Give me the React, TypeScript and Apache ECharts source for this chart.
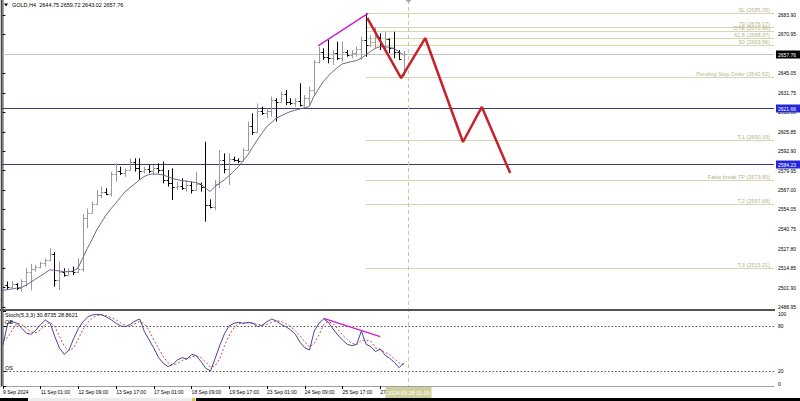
import React, { useEffect, useRef } from 'react';
import * as echarts from 'echarts';

const headerText = 'GOLD,H4  2644.75 2659.72 2643.02 2657.76';
const stochText = 'Stoch(5,3,3) 30.8735 28.8621';
const cursorTime = '2024.09.28 01:00';
const timeLabels = ['9 Sep 2024', '11 Sep 01:00', '12 Sep 09:00', '13 Sep 17:00', '17 Sep 01:00', '18 Sep 09:00', '19 Sep 17:00', '23 Sep 01:00', '24 Sep 09:00', '25 Sep 17:00', '27 Sep 01:00'];
const labelEvery = 8;
const totalSlots = 164;

const opens = [2494.5, 2503.5, 2502.0, 2504.5, 2501.5, 2506.0, 2512.0, 2514.5, 2515.5, 2518.0,
  2520.0, 2524.0, 2507.0, 2512.0, 2510.5, 2513.0, 2512.0, 2514.0, 2548.5, 2552.0,
  2557.5, 2564.0, 2566.0, 2564.5, 2577.5, 2580.0, 2578.5, 2580.5, 2586.0, 2582.0,
  2580.0, 2581.0, 2579.5, 2582.0, 2580.5, 2574.0, 2572.0, 2569.0, 2570.0, 2568.5,
  2570.5, 2567.0, 2571.0, 2569.0, 2557.0, 2556.0, 2571.0, 2587.0, 2581.0, 2588.0,
  2587.0, 2586.5, 2593.5, 2610.0, 2606.0, 2620.0, 2618.5, 2620.0, 2627.0, 2626.0,
  2631.0, 2626.0, 2625.0, 2626.5, 2624.0, 2628.5, 2634.0, 2652.5, 2659.0, 2656.0,
  2655.0, 2658.5, 2655.5, 2659.5, 2657.0, 2658.5, 2661.0, 2667.5, 2664.0, 2666.0,
  2669.0, 2663.0, 2668.0, 2662.0, 2659.0, 2644.75];
const highs = [2506.5, 2505.9, 2506.3, 2504.8, 2507.4, 2514.8, 2517.7, 2517.0, 2519.2, 2521.4,
  2528.1, 2525.5, 2519.2, 2514.8, 2514.8, 2515.9, 2521.4, 2551.0, 2554.8, 2559.3,
  2567.1, 2569.3, 2568.2, 2579.3, 2584.9, 2582.6, 2581.5, 2588.2, 2588.2, 2588.2,
  2582.6, 2583.7, 2583.7, 2584.9, 2586.0, 2580.4, 2581.5, 2572.6, 2574.8, 2573.7,
  2572.6, 2579.3, 2572.0, 2599.3, 2560.8, 2573.7, 2593.8, 2591.5, 2591.5, 2589.3,
  2588.2, 2594.9, 2612.7, 2618.2, 2624.9, 2622.7, 2621.6, 2629.4, 2628.3, 2632.7,
  2633.8, 2628.3, 2628.3, 2638.3, 2630.5, 2636.0, 2653.8, 2662.7, 2661.6, 2667.2,
  2660.5, 2666.1, 2666.1, 2660.5, 2660.5, 2662.7, 2669.4, 2685.0, 2670.5, 2676.0,
  2671.6, 2672.8, 2668.3, 2672.7, 2660.5, 2659.72];
const lows = [2492.5, 2500.3, 2501.4, 2500.3, 2499.2, 2502.5, 2499.9, 2512.5, 2514.8, 2515.9,
  2519.5, 2502.5, 2500.3, 2509.2, 2510.0, 2510.3, 2511.5, 2512.5, 2541.5, 2551.5,
  2557.0, 2561.5, 2563.7, 2562.6, 2572.6, 2577.1, 2575.9, 2580.0, 2579.3, 2573.7,
  2578.2, 2578.2, 2577.1, 2578.2, 2571.5, 2569.3, 2560.4, 2567.1, 2567.1, 2565.9,
  2564.8, 2566.5, 2566.0, 2545.9, 2554.8, 2553.7, 2568.2, 2578.2, 2570.4, 2586.0,
  2584.9, 2586.0, 2593.0, 2603.8, 2604.9, 2617.1, 2614.9, 2616.0, 2612.7, 2625.5,
  2623.8, 2623.8, 2622.7, 2622.7, 2622.7, 2623.8, 2630.0, 2651.6, 2653.8, 2651.6,
  2650.5, 2653.8, 2652.7, 2656.1, 2655.0, 2656.1, 2653.8, 2656.0, 2662.7, 2661.6,
  2660.5, 2660.5, 2658.3, 2655.0, 2653.8, 2643.02];
const closes = [2503.5, 2502.0, 2504.5, 2501.5, 2506.0, 2512.0, 2514.5, 2515.5, 2518.0, 2520.0,
  2524.0, 2507.0, 2512.0, 2510.5, 2513.0, 2512.0, 2514.0, 2548.5, 2552.0, 2557.5,
  2564.0, 2566.0, 2564.5, 2577.5, 2580.0, 2578.5, 2580.5, 2586.0, 2582.0, 2580.0,
  2581.0, 2579.5, 2582.0, 2580.5, 2574.0, 2572.0, 2569.0, 2570.0, 2568.5, 2570.5,
  2567.0, 2571.0, 2569.0, 2557.0, 2556.0, 2571.0, 2587.0, 2581.0, 2588.0, 2587.0,
  2586.5, 2593.5, 2610.0, 2606.0, 2620.0, 2618.5, 2620.0, 2627.0, 2626.0, 2631.0,
  2626.0, 2625.0, 2626.5, 2624.0, 2628.5, 2634.0, 2652.5, 2659.0, 2656.0, 2655.0,
  2658.5, 2655.5, 2659.5, 2657.0, 2658.5, 2661.0, 2667.5, 2664.0, 2666.0, 2669.0,
  2663.0, 2668.0, 2662.0, 2659.0, 2654.5, 2657.76];

const maValues = [2500.0, 2500.5, 2501.0, 2501.5, 2502.0, 2503.5, 2505.5, 2507.5, 2509.5, 2511.5,
  2513.7, 2513.5, 2513.0, 2512.5, 2512.5, 2513.0, 2514.8, 2521.4, 2528.0, 2534.0,
  2540.4, 2545.5, 2550.4, 2554.5, 2558.2, 2562.0, 2565.9, 2568.5, 2571.0, 2573.7,
  2576.0, 2577.3, 2577.8, 2577.6, 2577.1, 2576.0, 2574.8, 2574.0, 2573.3, 2573.0,
  2572.5, 2572.0, 2571.0, 2568.5, 2566.0, 2569.3, 2571.5, 2573.7, 2576.5, 2579.5,
  2582.6, 2586.5, 2590.4, 2595.5, 2600.4, 2605.0, 2609.3, 2612.0, 2614.9, 2616.5,
  2618.0, 2619.4, 2620.3, 2621.1, 2622.0, 2622.7, 2629.4, 2634.5, 2639.4, 2643.0,
  2646.1, 2648.8, 2651.2, 2652.0, 2652.8, 2653.4, 2655.0, 2657.2, 2659.5, 2661.6,
  2662.7, 2662.7, 2662.3, 2661.6, 2659.4, 2657.2];

const stochMain = [55, 83.6, 85.8, 83.6, 76.9, 70.2, 68.9, 74.7, 82.2, 88,
  83.6, 65.8, 50.2, 42.2, 48, 63.6, 76.9, 85.8, 92.4, 94.7,
  95.6, 94.7, 92, 88, 83.6, 80, 79.1, 82.2, 86.7, 89.3,
  72.4, 61.3, 50.2, 37.8, 30.2, 25.8, 28.9, 34.7, 37.8, 36,
  42.2, 40.4, 32.5, 23.6, 20, 36.9, 54.7, 70.2, 80.4, 83.6,
  84.9, 83.6, 84.9, 83.6, 79.1, 81.3, 85.8, 89.3, 86.7, 82.2,
  79.1, 74.7, 68.9, 58.2, 51.1, 48, 73.3, 83.6, 89.3, 84.9,
  76, 68, 61.3, 55.6, 53.8, 55.6, 73.3, 55.6, 52.4, 45.8,
  49.3, 41.3, 36.9, 31.6, 24.4, 30.87];
const stochSignal = [60, 65, 75, 84, 82, 77, 72, 71, 75, 82,
  85, 79, 66, 53, 47, 51, 63, 76, 85, 91,
  94, 95, 94, 91, 88, 84, 81, 80, 83, 86,
  83, 74, 61, 50, 39, 31, 28, 30, 34, 36,
  39, 40, 38, 32, 25, 27, 37, 54, 68, 78,
  83, 84, 84, 84, 82, 81, 82, 85, 87, 86,
  83, 79, 74, 67, 59, 52, 57, 68, 82, 86,
  83, 76, 68, 62, 57, 55, 61, 61, 60, 51,
  49, 45, 42, 36, 31, 28.86];

const priceTicks = [2683.90, 2670.95, 2658.00, 2645.05, 2631.75, 2618.80, 2605.85, 2592.90, 2579.95, 2567.00, 2554.05, 2540.75, 2527.80, 2514.85, 2501.90, 2488.95];
const stochTicks = [0, 20, 80, 100];
const stochLevels = [80, 20];

const levelNames = ['SL', '79', 'OTE', '61.8', '50', 'Pending Stop Order', 'T.1', 'False break TP', 'T.2', 'T.3'];
const levelPrices = [2685.05, 2676.17, 2672.96, 2668.37, 2663.56, 2642.62, 2600.15, 2573.90, 2557.68, 2515.21];
const levelStartIndex = 77;
const fullLinePrices = [2621.66, 2584.23];
const bidPrice = 2657.76;

const zigzagX = [77.3, 84.5, 89.6, 97.6, 101.6, 107.6];
const zigzagY = [2681.9, 2641.8, 2668.5, 2599.1, 2622.5, 2578.4];
const divPriceX = [66.9, 77.5];
const divPriceY = [2663.2, 2685.0];
const divStochX = [68, 80];
const divStochY = [90.2, 65.8];
const cursorIndex = 86;

const FONT = 'Liberation Sans, Arial, sans-serif';
const LEVEL_LINE = '#d6d6b0';
const LEVEL_TEXT = '#b4b48c';

export default function App() {
  const ref = useRef<HTMLDivElement>(null);
  useEffect(() => {
    document.body.style.margin = '0';
    const chart = echarts.init(ref.current!, null, { renderer: 'svg' });
    const categories = Array.from({ length: totalSlots }, (_, i) =>
      i % labelEvery === 0 && i / labelEvery < timeLabels.length ? timeLabels[i / labelEvery] : '');
    const showLabel = (i: number) => i % labelEvery === 0 && i / labelEvery < timeLabels.length;
    const barData = opens.map((o, i) => [i, o, highs[i], lows[i], closes[i]]);

    const option: any = {
      animation: false,
      backgroundColor: '#ffffff',
      grid: [
        { left: 0, right: 26, top: 0, height: 309 },
        { left: 0, right: 26, top: 311, height: 75 },
      ],
      xAxis: [
        { type: 'value', gridIndex: 0, min: -0.5, max: totalSlots - 0.5, show: false },
        { type: 'value', gridIndex: 1, min: -0.5, max: totalSlots - 0.5, show: false },
        {
          type: 'category', gridIndex: 1, data: categories, boundaryGap: true, position: 'bottom',
          axisLine: { show: true, lineStyle: { color: '#a0a0a0', width: 1 } },
          axisTick: { show: true, interval: (i: number) => showLabel(i), alignWithLabel: true, length: 3, lineStyle: { color: '#000' } },
          axisLabel: { interval: (i: number) => showLabel(i), align: 'left', fontSize: 5, color: '#000', margin: 3, fontFamily: FONT },
          splitLine: { show: false },
        },
      ],
      yAxis: [
        {
          type: 'value', gridIndex: 0, position: 'right', min: 2487.6, max: 2693.9,
          splitLine: { show: false },
          axisLine: { show: true, lineStyle: { color: '#a0a0a0', width: 2 } },
          axisTick: { show: true, customValues: priceTicks, length: 3, lineStyle: { color: '#000' } },
          axisLabel: { customValues: priceTicks, formatter: (v: number) => v.toFixed(2), fontSize: 5, color: '#000', margin: 4, fontFamily: FONT },
        },
        {
          type: 'value', gridIndex: 1, position: 'right', min: 0, max: 100,
          splitLine: { show: false },
          axisLine: { show: true, lineStyle: { color: '#a0a0a0', width: 2 } },
          axisTick: { show: true, customValues: stochTicks, length: 3, lineStyle: { color: '#000' } },
          axisLabel: { customValues: stochTicks, fontSize: 5, color: '#000', margin: 4, fontFamily: FONT, verticalAlignMinLabel: 'bottom', verticalAlignMaxLabel: 'top' },
        },
      ],
      series: [
        {
          type: 'custom', name: 'levels', xAxisIndex: 0, yAxisIndex: 0, z: 1,
          data: levelPrices.map((p) => [levelStartIndex, p]),
          renderItem: (params: any, api: any) => {
            const k = params.dataIndex;
            const pt = api.coord([api.value(0), api.value(1)]);
            const right = params.coordSys.x + params.coordSys.width;
            const y = Math.round(pt[1]) + 0.5;
            return {
              type: 'group', children: [
                { type: 'line', shape: { x1: pt[0], y1: y, x2: right, y2: y }, style: { stroke: LEVEL_LINE, lineWidth: 1 } },
                { type: 'text', style: { text: `${levelNames[k]} (${levelPrices[k].toFixed(2)})`, x: right - 4, y: y - 1, fill: LEVEL_TEXT, fontSize: 5.5, fontFamily: FONT, align: 'right', verticalAlign: 'bottom' } },
              ],
            };
          },
        },
        {
          type: 'custom', name: 'fullLines', xAxisIndex: 0, yAxisIndex: 0, z: 1,
          data: [[0, bidPrice], ...fullLinePrices.map((p) => [0, p])],
          renderItem: (params: any, api: any) => {
            const k = params.dataIndex;
            const price = api.value(1);
            const pt = api.coord([0, price]);
            const cs = params.coordSys;
            const y = Math.round(pt[1]) + 0.5;
            const right = cs.x + cs.width;
            const isBid = k === 0;
            return {
              type: 'group', children: [
                { type: 'line', shape: { x1: cs.x + 2, y1: y, x2: right, y2: y }, style: { stroke: isBid ? '#c4c4c4' : '#3c3c6c', lineWidth: 1 } },
                { type: 'rect', shape: { x: right + 2, y: y - 4, width: 24, height: 8 }, style: { fill: isBid ? '#000000' : '#2424d8' } },
                { type: 'text', style: { text: price.toFixed(2), x: right + 4, y: y, fill: '#ffffff', fontSize: 5, fontFamily: FONT, align: 'left', verticalAlign: 'middle' } },
              ],
            };
          },
        },
        {
          type: 'custom', name: 'bars', xAxisIndex: 0, yAxisIndex: 0, z: 3,
          data: barData,
          encode: { x: 0, y: [1, 2, 3, 4] },
          renderItem: (params: any, api: any) => {
            const i = api.value(0);
            const o = api.value(1), c = api.value(4);
            const ph = api.coord([i, api.value(2)]);
            const pl = api.coord([i, api.value(3)]);
            const po = api.coord([i, o]);
            const pc = api.coord([i, c]);
            const x = Math.round(ph[0]) + 0.5;
            const col = c >= o ? '#9a9a9a' : '#000000';
            const st = { stroke: col, lineWidth: 1 };
            return {
              type: 'group', children: [
                { type: 'line', shape: { x1: x, y1: ph[1], x2: x, y2: pl[1] }, style: st },
                { type: 'line', shape: { x1: x - 2, y1: Math.round(po[1]) + 0.5, x2: x, y2: Math.round(po[1]) + 0.5 }, style: st },
                { type: 'line', shape: { x1: x, y1: Math.round(pc[1]) + 0.5, x2: x + 2, y2: Math.round(pc[1]) + 0.5 }, style: st },
              ],
            };
          },
        },
        {
          type: 'line', name: 'MA', xAxisIndex: 0, yAxisIndex: 0, z: 4,
          data: maValues.map((v, i) => [i, v]), symbol: 'none',
          lineStyle: { color: '#76638a', width: 1 },
        },
        {
          type: 'line', name: 'zigzag', xAxisIndex: 0, yAxisIndex: 0, z: 6,
          data: zigzagX.map((x, k) => [x, zigzagY[k]]), symbol: 'none',
          lineStyle: { color: '#c8202a', width: 2.5 },
        },
        {
          type: 'line', name: 'divPrice', xAxisIndex: 0, yAxisIndex: 0, z: 6,
          data: divPriceX.map((x, k) => [x, divPriceY[k]]), symbol: 'none',
          lineStyle: { color: '#cc22cc', width: 1.5 },
        },
        {
          type: 'custom', name: 'cursor', xAxisIndex: 0, yAxisIndex: 0, z: 2,
          data: [[cursorIndex, 2600]],
          renderItem: (params: any, api: any) => {
            const pt = api.coord([api.value(0), api.value(1)]);
            const x = Math.round(pt[0]) + 0.5;
            const top = params.coordSys.y;
            return {
              type: 'group', children: [
                { type: 'line', shape: { x1: x, y1: top, x2: x, y2: 386 }, style: { stroke: '#c8c8a0', lineWidth: 1, lineDash: [4, 3] } },
                { type: 'polygon', shape: { points: [[x - 3, top], [x + 3, top], [x, top + 3]] }, style: { fill: '#a8a8a8' } },
                { type: 'rect', shape: { x: x - 23, y: 387, width: 46, height: 11 }, style: { fill: '#cfcf9e' } },
                { type: 'text', style: { text: cursorTime, x: x, y: 392.5, fill: '#ffffff', fontSize: 5.5, fontFamily: FONT, align: 'center', verticalAlign: 'middle' } },
              ],
            };
          },
        },
        {
          type: 'custom', name: 'stochLevels', xAxisIndex: 1, yAxisIndex: 1, z: 1,
          data: stochLevels.map((v) => [0, v]),
          renderItem: (params: any, api: any) => {
            const pt = api.coord([0, api.value(1)]);
            const cs = params.coordSys;
            const y = Math.round(pt[1]) + 0.5;
            return { type: 'line', shape: { x1: cs.x + 2, y1: y, x2: cs.x + cs.width, y2: y }, style: { stroke: '#505050', lineWidth: 1, lineDash: [1.5, 2] } };
          },
        },
        {
          type: 'line', name: 'stochSignal', xAxisIndex: 1, yAxisIndex: 1, z: 3,
          data: stochSignal.map((v, i) => [i, v]), symbol: 'none',
          lineStyle: { color: '#d04848', width: 1, type: [2, 2] },
        },
        {
          type: 'line', name: 'stochMain', xAxisIndex: 1, yAxisIndex: 1, z: 4,
          data: stochMain.map((v, i) => [i, v]), symbol: 'none',
          lineStyle: { color: '#45459a', width: 1 },
        },
        {
          type: 'line', name: 'divStoch', xAxisIndex: 1, yAxisIndex: 1, z: 6,
          data: divStochX.map((x, k) => [x, divStochY[k]]), symbol: 'none',
          lineStyle: { color: '#cc22cc', width: 1.5 },
        },
      ],
      graphic: [
        { type: 'line', shape: { x1: 1.5, y1: 0, x2: 1.5, y2: 386 }, style: { stroke: '#404040', lineWidth: 1.5 }, z: 10 },
        { type: 'line', shape: { x1: 0, y1: 310, x2: 775, y2: 310 }, style: { stroke: '#555555', lineWidth: 2 }, z: 10 },
        { type: 'polygon', shape: { points: [[4, 3.5], [8, 3.5], [6, 6.5]] }, style: { fill: '#000' }, z: 10 },
        { type: 'text', x: 12, y: 5, style: { text: headerText, fill: '#000', fontSize: 5.5, fontFamily: FONT, verticalAlign: 'middle' }, z: 10 },
        { type: 'text', x: 5, y: 315, style: { text: stochText, fill: '#000', fontSize: 5.5, fontFamily: FONT, verticalAlign: 'middle' }, z: 10 },
        { type: 'text', x: 5, y: 322, style: { text: 'OB', fill: '#000', fontSize: 5.5, fontFamily: FONT, verticalAlign: 'middle' }, z: 10 },
        { type: 'text', x: 5, y: 367.5, style: { text: 'OS', fill: '#000', fontSize: 5.5, fontFamily: FONT, verticalAlign: 'middle' }, z: 10 },
        { type: 'rect', shape: { x: 0, y: 398, width: 800, height: 3 }, style: { fill: '#000' }, z: 10 },
        { type: 'rect', shape: { x: 28, y: 398, width: 168, height: 3 }, style: { fill: '#ececec' }, z: 11 },
        { type: 'rect', shape: { x: 192, y: 398, width: 3, height: 3 }, style: { fill: '#e0c040' }, z: 12 },
      ],
    };
    chart.setOption(option);
    return () => chart.dispose();
  }, []);
  return <div ref={ref} style={{ width: 800, height: 401 }} />;
}
